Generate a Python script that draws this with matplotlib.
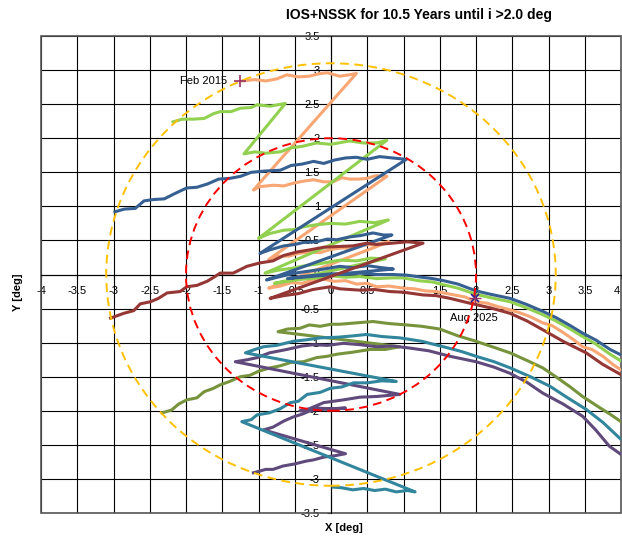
import numpy as np
import matplotlib
matplotlib.use("Agg")
import matplotlib.pyplot as plt
from matplotlib.patches import Circle, Rectangle

plt.rcParams['font.family'] = ['Liberation Sans', 'DejaVu Sans']
plt.rcParams['axes.unicode_minus'] = False

TITLE = "IOS+NSSK for 10.5 Years until i >2.0 deg"

# inclination vector tracks (x, y) in deg
salmon = [(-1.22, 2.84), (-1.05, 2.86), (-0.90, 2.84), (-0.75, 2.87), (-0.61, 2.93), (-0.45, 2.90),
          (-0.30, 2.91), (-0.15, 2.95), (-0.05, 2.96), (0.12, 2.91), (0.25, 2.93), (0.35, 2.95),
          (-1.07, 1.24), (-0.98, 1.29), (-0.79, 1.31), (-0.65, 1.30), (-0.52, 1.34), (-0.38, 1.37),
          (-0.24, 1.39), (-0.10, 1.36), (0.03, 1.36), (0.15, 1.42), (0.26, 1.40), (0.38, 1.40),
          (0.49, 1.41), (0.62, 1.45), (0.77, 1.44),
          (-0.86, 0.22), (-0.72, 0.27), (-0.58, 0.27), (-0.45, 0.31), (-0.30, 0.33), (-0.15, 0.32),
          (0.00, 0.37), (0.15, 0.39), (0.30, 0.38), (0.45, 0.43), (0.60, 0.44), (0.80, 0.48),
          (-0.86, -0.20), (-0.70, -0.17), (-0.55, -0.12), (-0.40, -0.13), (-0.25, -0.08), (-0.10, -0.07),
          (0.05, -0.10), (0.20, -0.09), (0.35, -0.14), (0.50, -0.13), (0.63, -0.18), (0.80, -0.17),
          (1.00, -0.20), (1.15, -0.21), (1.30, -0.24), (1.45, -0.25), (1.55, -0.27), (1.70, -0.30),
          (1.85, -0.33), (2.00, -0.40), (2.15, -0.42), (2.30, -0.47), (2.47, -0.52), (2.60, -0.56),
          (2.75, -0.62), (2.92, -0.71), (3.05, -0.75), (3.20, -0.85), (3.35, -0.96), (3.47, -1.06),
          (3.60, -1.10), (3.75, -1.20), (3.90, -1.33), (4.00, -1.40), (4.10, -1.45)]

green = [(-2.18, 2.24), (-2.05, 2.28), (-1.90, 2.28), (-1.75, 2.29), (-1.62, 2.36), (-1.53, 2.39),
         (-1.38, 2.39), (-1.25, 2.44), (-1.10, 2.45), (-1.02, 2.49), (-0.84, 2.47), (-0.63, 2.51),
         (-1.20, 1.77), (-1.05, 1.80), (-0.90, 1.78), (-0.70, 1.80), (-0.55, 1.86), (-0.40, 1.88),
         (-0.20, 1.93), (0.00, 1.91), (0.15, 1.94), (0.26, 1.96), (0.45, 1.93), (0.63, 1.93), (0.77, 1.97),
         (-1.00, 0.53), (-0.85, 0.60), (-0.65, 0.65), (-0.50, 0.66), (-0.38, 0.70), (-0.20, 0.73),
         (-0.01, 0.75), (0.20, 0.74), (0.40, 0.78), (0.60, 0.76), (0.79, 0.80),
         (-0.91, 0.02), (-0.75, 0.06), (-0.55, 0.09), (-0.35, 0.13), (-0.15, 0.16), (0.12, 0.21),
         (0.35, 0.20), (0.55, 0.24), (0.75, 0.23),
         (-0.78, -0.13), (-0.60, -0.10), (-0.40, -0.07), (-0.20, -0.05), (0.00, -0.02), (0.20, -0.04),
         (0.40, -0.03), (0.63, -0.06), (0.85, -0.05), (1.00, -0.05), (1.20, -0.09), (1.40, -0.11),
         (1.55, -0.15), (1.75, -0.20), (2.00, -0.29), (2.20, -0.34), (2.47, -0.40), (2.70, -0.49),
         (2.92, -0.59), (3.10, -0.68), (3.30, -0.80), (3.47, -0.91), (3.65, -1.02), (3.85, -1.17),
         (4.00, -1.27), (4.10, -1.32)]

blue = [(-2.98, 0.92), (-2.85, 0.96), (-2.70, 0.97), (-2.58, 1.08), (-2.45, 1.10), (-2.30, 1.11),
        (-2.15, 1.19), (-1.99, 1.27), (-1.85, 1.28), (-1.70, 1.33), (-1.55, 1.40), (-1.40, 1.41),
        (-1.25, 1.44), (-1.10, 1.50), (-0.89, 1.52), (-0.70, 1.53), (-0.55, 1.60), (-0.40, 1.62),
        (-0.24, 1.66), (-0.10, 1.63), (0.05, 1.68), (0.20, 1.71), (0.35, 1.72), (0.50, 1.69),
        (0.67, 1.73), (0.85, 1.71), (1.04, 1.69),
        (-0.98, 0.31), (-0.85, 0.36), (-0.65, 0.42), (-0.50, 0.44), (-0.38, 0.47), (-0.20, 0.48),
        (-0.05, 0.52), (0.08, 0.51), (0.25, 0.55), (0.40, 0.57), (0.58, 0.61), (0.72, 0.58), (0.84, 0.58),
        (-0.89, -0.08), (-0.70, -0.03), (-0.50, 0.02), (-0.30, 0.05), (-0.10, 0.08), (0.12, 0.12),
        (0.30, 0.10), (0.50, 0.13), (0.70, 0.10), (0.86, 0.08),
        (-0.60, -0.06), (-0.40, -0.03), (-0.20, -0.01), (0.00, 0.01), (0.20, 0.00), (0.40, 0.02),
        (0.63, 0.00), (0.86, 0.00), (1.05, -0.01), (1.25, -0.04), (1.40, -0.06), (1.55, -0.09),
        (1.75, -0.14), (2.00, -0.24), (2.20, -0.29), (2.47, -0.35), (2.70, -0.44), (2.92, -0.54),
        (3.10, -0.63), (3.30, -0.75), (3.47, -0.86), (3.65, -0.96), (3.85, -1.10), (4.00, -1.18),
        (4.10, -1.23)]

brown = [(-3.04, -0.64), (-2.86, -0.57), (-2.72, -0.53), (-2.63, -0.43), (-2.49, -0.40), (-2.38, -0.35),
         (-2.26, -0.27), (-2.08, -0.25), (-1.99, -0.18), (-1.85, -0.16), (-1.71, -0.10), (-1.60, -0.03),
         (-1.53, 0.02), (-1.35, 0.02), (-1.16, 0.12), (-0.98, 0.17), (-0.80, 0.20), (-0.65, 0.28),
         (-0.47, 0.33), (-0.30, 0.36), (-0.10, 0.40), (0.08, 0.41), (0.30, 0.42), (0.50, 0.46),
         (0.63, 0.44), (0.85, 0.46), (1.05, 0.48), (1.27, 0.46),
         (-0.84, -0.35), (-0.65, -0.31), (-0.45, -0.28), (-0.25, -0.22), (-0.01, -0.18), (0.12, -0.21),
         (0.40, -0.23), (0.60, -0.22), (0.81, -0.25), (1.00, -0.26), (1.27, -0.30), (1.45, -0.31),
         (1.64, -0.35), (1.91, -0.42), (2.20, -0.49), (2.47, -0.57), (2.70, -0.68), (2.92, -0.81),
         (3.20, -0.98), (3.52, -1.15), (3.75, -1.32), (4.00, -1.47), (4.10, -1.53)]

olive = [(-2.33, -2.03), (-2.20, -1.99), (-2.10, -1.90), (-1.99, -1.84), (-1.85, -1.81), (-1.75, -1.72),
         (-1.62, -1.67), (-1.53, -1.62), (-1.40, -1.57), (-1.25, -1.50), (-1.12, -1.48), (-1.00, -1.42),
         (-0.84, -1.37), (-0.70, -1.34), (-0.55, -1.29), (-0.38, -1.28), (-0.20, -1.22), (-0.05, -1.20),
         (0.08, -1.17), (0.30, -1.14), (0.54, -1.10), (0.75, -1.10), (0.95, -1.06),
         (-0.73, -0.84), (-0.60, -0.80), (-0.43, -0.79), (-0.30, -0.74), (-0.15, -0.76), (0.00, -0.73),
         (0.12, -0.73), (0.35, -0.71), (0.58, -0.69), (0.80, -0.72), (1.04, -0.74), (1.25, -0.76),
         (1.50, -0.80), (1.75, -0.90), (2.00, -0.98), (2.25, -1.07), (2.47, -1.15), (2.70, -1.26),
         (2.92, -1.37), (3.10, -1.50), (3.30, -1.65), (3.47, -1.79), (3.70, -1.95), (3.85, -2.05),
         (4.00, -2.16), (4.10, -2.22)]

purple = [(-1.07, -2.91), (-0.90, -2.86), (-0.80, -2.86), (-0.66, -2.81), (-0.50, -2.78), (-0.35, -2.74),
          (-0.24, -2.72), (-0.10, -2.68), (0.05, -2.66), (0.20, -2.63),
          (-0.93, -2.28), (-0.80, -2.24), (-0.65, -2.15), (-0.52, -2.09), (-0.40, -2.05), (-0.20, -1.96),
          (0.00, -1.97), (0.20, -1.96),
          (-0.43, -2.00), (-0.30, -1.97), (-0.10, -1.88), (0.17, -1.84), (0.40, -1.80), (0.63, -1.79),
          (0.95, -1.76),
          (-1.32, -1.28), (-1.15, -1.25), (-1.02, -1.22), (-0.85, -1.15), (-0.61, -1.10), (-0.40, -1.05),
          (-0.24, -1.03), (-0.05, -1.04), (0.17, -1.01), (0.40, -1.03), (0.63, -1.06), (0.85, -1.05),
          (1.09, -1.08), (1.35, -1.12), (1.64, -1.20), (2.00, -1.28), (2.25, -1.36), (2.47, -1.45),
          (2.70, -1.58), (2.92, -1.74), (3.20, -1.90), (3.47, -2.08), (3.65, -2.28), (3.84, -2.52),
          (4.00, -2.64), (4.10, -2.72)]

teal = [(0.03, -3.12), (0.15, -3.13), (0.30, -3.16), (0.45, -3.14), (0.60, -3.17), (0.75, -3.15),
        (0.90, -3.19), (1.05, -3.17), (1.16, -3.19),
        (-1.23, -2.16), (-1.10, -2.13), (-1.02, -2.06), (-0.85, -2.03), (-0.70, -1.97), (-0.56, -1.88),
        (-0.45, -1.86), (-0.33, -1.76), (-0.15, -1.73), (-0.01, -1.67), (0.15, -1.65), (0.31, -1.59),
        (0.50, -1.59), (0.70, -1.56), (0.90, -1.57),
        (-1.18, -1.15), (-1.05, -1.10), (-0.93, -1.06), (-0.75, -1.04), (-0.52, -0.98), (-0.35, -0.96),
        (-0.15, -0.93), (0.10, -0.92), (0.31, -0.90), (0.49, -0.88), (0.70, -0.91), (0.95, -0.93),
        (1.25, -0.98), (1.55, -1.06), (1.80, -1.13), (2.00, -1.20), (2.25, -1.28), (2.47, -1.37),
        (2.75, -1.50), (3.02, -1.64), (3.25, -1.80), (3.52, -1.98), (3.75, -2.17), (4.00, -2.42),
        (4.10, -2.50)]

series = [salmon, green, blue, brown, olive, purple, teal]
colors = ['#F8A673', '#92D050', '#376092', '#953735', '#77933C', '#604A7B', '#31859C']

limit_radius = 2.0      # i = 2.0 deg
start_radius = 3.1

start_pt = (-1.25, 2.84)
end_pt = (1.98, -0.35)

x_ticks = np.arange(-4, 4.01, 0.5)
y_ticks = np.arange(-3.5, 3.51, 0.5)

fig = plt.figure(figsize=(6.22, 5.38), dpi=100)
ax = fig.add_axes([41 / 622, 25 / 538, 580 / 622, 477 / 538])

ax.set_xlim(-4, 4)
ax.set_ylim(-3.5, 3.5)
# last x label ("4") is drawn separately so it stays inside the figure
x_labels = ['%g' % v for v in x_ticks]
ax.set_xticks(x_ticks, x_labels[:-1] + [''])
ax.set_yticks(y_ticks, ['%g' % v for v in y_ticks])
ax.annotate(x_labels[-1], xy=(x_ticks[-1], 0), xytext=(-1, -8), textcoords='offset points',
            ha='right', va='top', fontsize=8)
ax.grid(True, color='black', lw=0.8)
ax.set_axisbelow(True)

ax.spines['left'].set_position('zero')
ax.spines['bottom'].set_position('zero')
ax.spines['top'].set_visible(False)
ax.spines['right'].set_visible(False)
for s in ['left', 'bottom']:
    ax.spines[s].set_color('black')
    ax.spines[s].set_linewidth(0.8)
ax.add_patch(Rectangle((0, 0), 1, 1, transform=ax.transAxes, fill=False,
                       ec='#555555', lw=1.2, clip_on=False, zorder=1))
ax.tick_params(direction='out', length=3, width=0.8, labelsize=8, pad=5)

for pts, c in zip(series, colors):
    xy = np.array(pts)
    ax.plot(xy[:, 0], xy[:, 1], color=c, lw=2.2, solid_joinstyle='round', zorder=3)

ax.add_patch(Circle((0, 0), limit_radius, fill=False, ec='#FF0000', lw=1.4,
                    ls=(0, (4.5, 2.8)), zorder=4))
ax.add_patch(Circle((0, 0), start_radius, fill=False, ec='#FFC000', lw=1.4,
                    ls=(0, (4.5, 2.8)), zorder=4))

ax.plot(*start_pt, marker='+', ms=8, mew=1.2, color='#993366', zorder=5)
ax.plot(*end_pt, marker='x', ms=6, mew=1.2, color='#1F1F8F', zorder=5)
ax.plot(*end_pt, marker='+', ms=8, mew=1.0, color='#993366', zorder=5)
ax.text(-1.43, 2.84, 'Feb 2015', ha='right', va='center', fontsize=8)
ax.text(1.97, -0.64, 'Aug 2025', ha='center', va='center', fontsize=8)

fig.text(419 / 622, 1 - 15 / 538, TITLE, ha='center', va='center', fontsize=10, fontweight='bold')
fig.text(344 / 622, 1 - 528 / 538, 'X [deg]', ha='center', va='center', fontsize=8, fontweight='bold')
fig.text(18 / 622, 1 - 292 / 538, 'Y [deg]', ha='center', va='center', fontsize=8,
         fontweight='bold', rotation=90)

fig.savefig('out.png', dpi=100)
